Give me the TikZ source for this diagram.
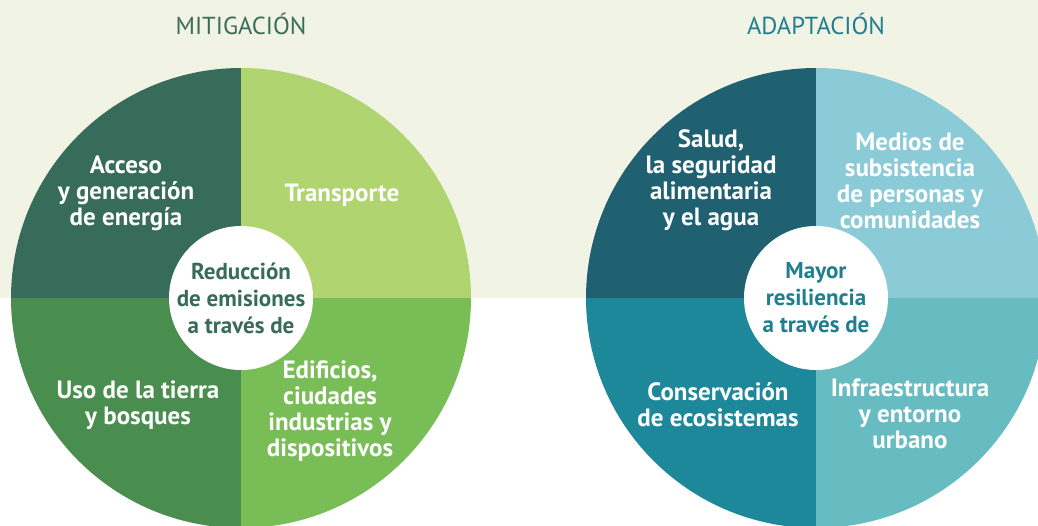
\documentclass[tikz,border=0pt]{standalone}
\usepackage{fontspec}
\setmainfont{PT Sans}
\definecolor{bg}{HTML}{F1F3E5}
\definecolor{mA}{HTML}{376B5A}
\definecolor{mB}{HTML}{AFD470}
\definecolor{mC}{HTML}{4A8E4F}
\definecolor{mD}{HTML}{79BD56}
\definecolor{aA}{HTML}{1F6071}
\definecolor{aB}{HTML}{8BCAD7}
\definecolor{aC}{HTML}{1E889B}
\definecolor{aD}{HTML}{67BCC1}
\definecolor{tM}{HTML}{3B6E58}
\definecolor{tA}{HTML}{1F7F8E}
\tikzset{
  lbl/.style={text=white, align=center, font=\bfseries\fontsize{25}{26}\selectfont, inner sep=0pt},
  hub/.style={align=center, font=\bfseries\fontsize{23}{27}\selectfont, inner sep=0pt},
  ttl/.style={font=\fontsize{24.6}{26}\selectfont, inner sep=0pt, anchor=base},
}
\begin{document}
\begin{tikzpicture}[x=1pt,y=-1pt]
\useasboundingbox (0,0) rectangle (1038,525);
\clip (0,0) rectangle (1038,525);
\fill[white] (0,0) rectangle (1038,525);
\fill[bg] (0,0) rectangle (1038,298);
% mitigation wheel
\begin{scope}
\clip (241,298) circle[radius=230];
\fill[mA] (0,0) rectangle (241,298);
\fill[mB] (241,0) rectangle (520,298);
\fill[mC] (0,298) rectangle (241,560);
\fill[mD] (241,298) rectangle (520,560);
\end{scope}
\fill[white] (241,298) circle[radius=72];
% adaptation wheel
\begin{scope}
\clip (816,298) circle[radius=230];
\fill[aA] (560,0) rectangle (816,298);
\fill[aB] (816,0) rectangle (1100,298);
\fill[aC] (560,298) rectangle (816,560);
\fill[aD] (816,298) rectangle (1100,560);
\end{scope}
\fill[white] (816,298) circle[radius=72];
% titles
\node[ttl, text=tM] (tmit) at (241,34) {MITIGACIÓN};
\node[ttl, text=tA] (tada) at (816,34) {ADAPTACIÓN};
% mitigation labels
\node[lbl] (energia) at (126,193) {Acceso\\y generación\\de energía};
\node[lbl] (transp) at (342,195) {Transporte};
\node[hub, text=mA] (reduc) at (241,298) {Reducción\\de emisiones\\a través de};
\node[lbl] (tierra) at (138,405.5) {Uso de la tierra\\y bosques};
\node[lbl] (edif) at (330,411) {Edificios,\\ciudades\\industrias y\\dispositivos};
% adaptation labels
\node[lbl] (salud) at (711,180.5) {Salud,\\la seguridad\\alimentaria\\y el agua};
\node[lbl] (medios) at (910,180.5) {Medios de\\subsistencia\\de personas y\\comunidades};
\node[hub, text=tA] (mayor) at (816,298) {Mayor\\resiliencia\\a través de};
\node[lbl] (conserv) at (718,404.5) {Conservación\\de ecosistemas};
\node[lbl] (infra) at (910,414) {Infraestructura\\y entorno\\urbano};
\end{tikzpicture}
\end{document}
